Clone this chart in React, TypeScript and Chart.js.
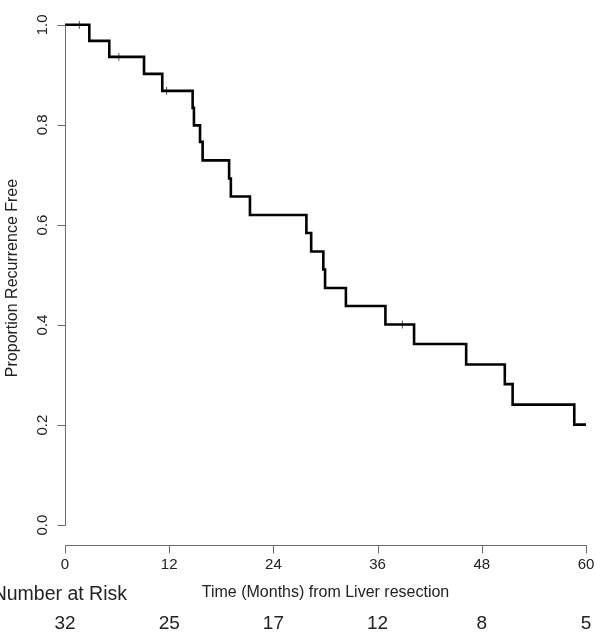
import React, { useEffect, useRef } from "react";
import { Chart, registerables } from "chart.js";

Chart.register(...registerables);

// Kaplan-Meier step curve (time in months, proportion recurrence free after each drop)
const eventTimes = [0, 2.8, 5.1, 9.1, 11.2, 14.7, 14.85, 15.55, 15.85, 18.9, 19.1, 21.3, 27.8, 28.35, 29.75, 29.95, 32.35, 36.9, 40.2, 46.2, 50.65, 51.55, 58.65, 60];
const survival = [1.0, 0.968, 0.936, 0.902, 0.868, 0.834, 0.799, 0.766, 0.729, 0.693, 0.657, 0.62, 0.584, 0.547, 0.511, 0.474, 0.438, 0.401, 0.362, 0.321, 0.282, 0.241, 0.201, 0.201];

// censoring marks
const censorTimes = [1.65, 6.2, 11.7, 38.85];
const censorValues = [1.0, 0.936, 0.868, 0.401];

// axes
const xTicks = [0, 12, 24, 36, 48, 60];
const yTicks = [0, 0.2, 0.4, 0.6, 0.8, 1.0];
const numberAtRisk = [32, 25, 17, 12, 8, 5];

const xTitle = "Time (Months) from Liver resection";
const yTitle = "Proportion Recurrence Free";
const riskTitle = "Number at Risk";

const FONT = "'Liberation Sans', Arial, Helvetica, sans-serif";

const axesPlugin = {
  id: "rAxes",
  afterDraw(chart: any) {
    const ctx = chart.ctx as CanvasRenderingContext2D;
    const xs = chart.scales.x;
    const ys = chart.scales.y;
    const area = chart.chartArea;
    ctx.save();
    ctx.strokeStyle = "#6a6a6a";
    ctx.lineWidth = 1;

    // y axis
    const yx = Math.round(area.left) + 0.5;
    const y0 = ys.getPixelForValue(yTicks[0]);
    const y1 = ys.getPixelForValue(yTicks[yTicks.length - 1]);
    ctx.beginPath();
    ctx.moveTo(yx, Math.round(y0) + 0.5);
    ctx.lineTo(yx, Math.round(y1) + 0.5);
    yTicks.forEach((v) => {
      const py = Math.round(ys.getPixelForValue(v)) + 0.5;
      ctx.moveTo(yx, py);
      ctx.lineTo(yx - 8, py);
    });
    ctx.stroke();

    // x axis
    const xy = Math.round(area.bottom) + 0.5;
    const x0 = xs.getPixelForValue(xTicks[0]);
    const x1 = xs.getPixelForValue(xTicks[xTicks.length - 1]);
    ctx.beginPath();
    ctx.moveTo(Math.round(x0) + 0.5, xy);
    ctx.lineTo(Math.round(x1) + 0.5, xy);
    xTicks.forEach((v) => {
      const px = Math.round(xs.getPixelForValue(v)) + 0.5;
      ctx.moveTo(px, xy);
      ctx.lineTo(px, xy + 8);
    });
    ctx.stroke();

    ctx.fillStyle = "#222";
    ctx.textAlign = "center";
    ctx.textBaseline = "middle";

    // y tick labels (rotated)
    ctx.font = `15px ${FONT}`;
    yTicks.forEach((v) => {
      const py = ys.getPixelForValue(v);
      ctx.save();
      ctx.translate(43, py);
      ctx.rotate(-Math.PI / 2);
      ctx.fillText(v.toFixed(1), 0, 0);
      ctx.restore();
    });

    // x tick labels
    xTicks.forEach((v) => {
      ctx.fillText(String(v), xs.getPixelForValue(v), area.bottom + 20);
    });

    // y title
    ctx.font = `16px ${FONT}`;
    ctx.save();
    ctx.translate(13, (area.top + area.bottom) / 2 + 3);
    ctx.rotate(-Math.PI / 2);
    ctx.fillText(yTitle, 0, 0);
    ctx.restore();

    // x title
    ctx.fillText(xTitle, (area.left + area.right) / 2, area.bottom + 48);

    // number at risk
    ctx.font = `19.5px ${FONT}`;
    ctx.textAlign = "right";
    ctx.fillText(riskTitle, 127, area.bottom + 50);
    ctx.font = `19px ${FONT}`;
    ctx.textAlign = "center";
    xTicks.forEach((v, i) => {
      ctx.fillText(String(numberAtRisk[i]), xs.getPixelForValue(v), area.bottom + 79);
    });

    ctx.restore();
  },
};

export default function App() {
  const ref = useRef<HTMLCanvasElement | null>(null);

  useEffect(() => {
    if (!ref.current) return;
    const curve = eventTimes.map((t, i) => ({ x: t, y: survival[i] }));
    const marks = censorTimes.map((t, i) => ({ x: t, y: censorValues[i] }));
    const chart = new Chart(ref.current, {
      type: "scatter",
      data: {
        datasets: [
          {
            data: curve,
            showLine: true,
            stepped: true,
            borderColor: "#000",
            borderWidth: 2.6,
            pointRadius: 0,
            fill: false,
          } as any,
          {
            data: marks,
            pointStyle: "cross",
            pointRadius: 4,
            borderColor: "#555",
            borderWidth: 1,
            backgroundColor: "#555",
          } as any,
        ],
      },
      options: {
        responsive: false,
        animation: false,
        events: [],
        layout: { padding: { left: 65, right: 18, top: 0, bottom: 92 } },
        plugins: { legend: { display: false }, tooltip: { enabled: false } },
        scales: {
          x: { type: "linear", min: 0, max: 60, display: false },
          y: { type: "linear", min: -0.0396, max: 1.0396, display: false },
        },
      },
      plugins: [axesPlugin],
    });
    return () => chart.destroy();
  }, []);

  return (
    <div style={{ position: "fixed", left: 0, top: 0, width: 604, height: 637, background: "#fff" }}>
      <canvas ref={ref} width={604} height={637} style={{ width: 604, height: 637, display: "block" }} />
    </div>
  );
}
